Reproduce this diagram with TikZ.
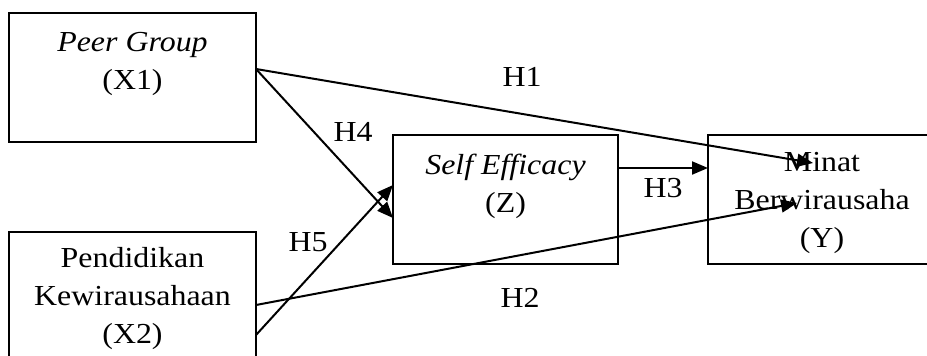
\documentclass[tikz,border=0pt]{standalone}
\usepackage{fontspec}
\setmainfont{Liberation Serif}[FakeStretch=1.1]
\usetikzlibrary{arrows.meta}
\begin{document}
\begin{tikzpicture}[x=1pt,y=-1pt,
  box/.style={draw, line width=1.8pt, inner sep=0pt},
  txt/.style={align=center, inner sep=0pt, font=\fontsize{29}{38}\selectfont},
  lbl/.style={inner sep=0pt, font=\fontsize{29}{34}\selectfont},
  arr/.style={line width=2pt, -{Triangle[length=16pt,width=13pt]}}]
\useasboundingbox (0,0) rectangle (927,356);
\clip (0,0) rectangle (927,356);
% boxes
\node[box, minimum width=247pt, minimum height=129pt] (x1) at (132.5,77.5) {};
\node[box, minimum width=247pt, minimum height=150pt] (x2) at (132.5,307) {};
\node[box, minimum width=225pt, minimum height=129pt] (z) at (505.5,199.5) {};
\node[box, minimum width=240pt, minimum height=129pt] (y) at (828,199.5) {};
% texts
\node[txt] (x1t) at (132.5,64) {\textit{Peer Group}\\(X1)};
\node[txt] (x2t) at (132.5,299) {Pendidikan\\Kewirausahaan\\(X2)};
\node[txt] (zt) at (505.5,186) {\textit{Self Efficacy}\\(Z)};
\node[txt] (yt) at (822,203) {Minat\\Berwirausaha\\(Y)};
% connector points
\coordinate (p1) at (256,69);
\coordinate (p2a) at (256,305);
\coordinate (p2b) at (256,335);
\coordinate (zin1) at (393,218);
\coordinate (zin2) at (393,185);
\coordinate (zout) at (618,168);
\coordinate (yin) at (708,168);
\coordinate (e1) at (813,163);
\coordinate (e2) at (797,203);
% arrows
\draw[arr] (p1) -- (e1);
\draw[arr] (p1) -- (zin1);
\draw[arr] (p2b) -- (zin2);
\draw[arr] (p2a) -- (e2);
\draw[arr] (zout) -- (yin);
% labels
\node[lbl] (h1) at (522,77) {H1};
\node[lbl] (h4) at (353,132) {H4};
\node[lbl] (h5) at (308,242) {H5};
\node[lbl] (h2) at (520,298) {H2};
\node[lbl] (h3) at (663,188) {H3};
\end{tikzpicture}
\end{document}
